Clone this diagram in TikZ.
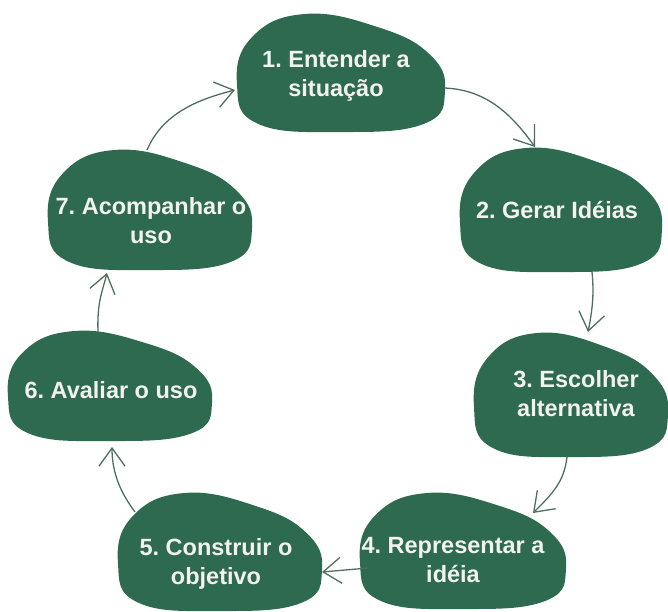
\documentclass[tikz,border=0pt]{standalone}
\usepackage{fontspec}
\setmainfont{Liberation Sans}
\usepackage{tikz}
\usetikzlibrary{arrows.meta,calc,backgrounds}
\frenchspacing
\definecolor{blobc}{RGB}{45,106,79}
\definecolor{linkc}{RGB}{78,110,96}
\definecolor{labelc}{RGB}{242,242,240}
% blob behind a stage: node, offset x, offset y, half width, half height
\newcommand{\blob}[5]{%
  \fill[blobc, shift={($(#1.center)+(#2,#3)$)}, xscale=#4, yscale=#5]
    plot[smooth cycle, tension=0.75] coordinates
    {(-0.35,-1) (0.35,-0.78) (0.85,-0.32) (1,0.3) (0.8,0.86) (0,1) (-0.8,0.86) (-1,0.2) (-0.86,-0.6)};}
\tikzset{
  stage/.style = {text=labelc, font=\fontsize{23.5}{29}\selectfont\bfseries,
                  align=center, inner sep=0pt},
  flow/.style  = {-{Straight Barb[length=18pt,width=26pt]}, line width=1.3pt, draw=linkc},
}
\begin{document}
\begin{tikzpicture}[x=1pt,y=-1pt]
\useasboundingbox (0,0) rectangle (668,611);

% --- stages -------------------------------------------------------------
\node[stage] (s1) at (336,76)  {1. Entender a\\situação};
\node[stage] (s2) at (557,210) {2. Gerar Idéias};
\node[stage] (s3) at (576,394) {3. Escolher\\alternativa};
\node[stage] (s4) at (453,560) {4. Representar a\\idéia};
\node[stage] (s5) at (216,564) {5. Construir o\\objetivo};
\node[stage] (s6) at (111,390) {6. Avaliar o uso};
\node[stage] (s7) at (151,221) {7. Acompanhar o\\uso};

\begin{scope}[on background layer]
  \blob{s1}{5}{-3}{104}{59}
  \blob{s2}{4}{0}{101}{62}
  \blob{s3}{-5}{1}{97}{62}
  \blob{s4}{10}{-9}{103}{58}
  \blob{s5}{4}{-12}{102}{59}
  \blob{s6}{-1}{-4}{102}{55}
  \blob{s7}{-1}{-11}{102}{60}
\end{scope}

% --- cycle --------------------------------------------------------------
\draw[flow] ($(s1.center)+(109,12)$) .. controls +(40,2) and +(-25,-35) .. ($(s2.center)+(-22,-63)$);
\draw[flow] ($(s2.center)+(35,62)$) .. controls +(2,20) and +(5,-25) .. ($(s3.center)+(12,-62)$);
\draw[flow] ($(s3.center)+(-9,63)$) .. controls +(-3,25) and +(20,-20) .. ($(s4.center)+(80,-47)$);
\draw[flow] ($(s4.center)+(-85,8)$) -- ($(s5.center)+(106,8)$);
\draw[flow] ($(s5.center)+(-81,-52)$) .. controls +(-15,-20) and +(0,25) .. ($(s6.center)+(1,57)$);
\draw[flow] ($(s6.center)+(-13,-58)$) .. controls +(-1,-30) and +(-5,20) .. ($(s7.center)+(-44,52)$);
\draw[flow] ($(s7.center)+(-4,-71)$) .. controls +(15,-35) and +(-40,10) .. ($(s1.center)+(-101,14)$);

\end{tikzpicture}
\end{document}
